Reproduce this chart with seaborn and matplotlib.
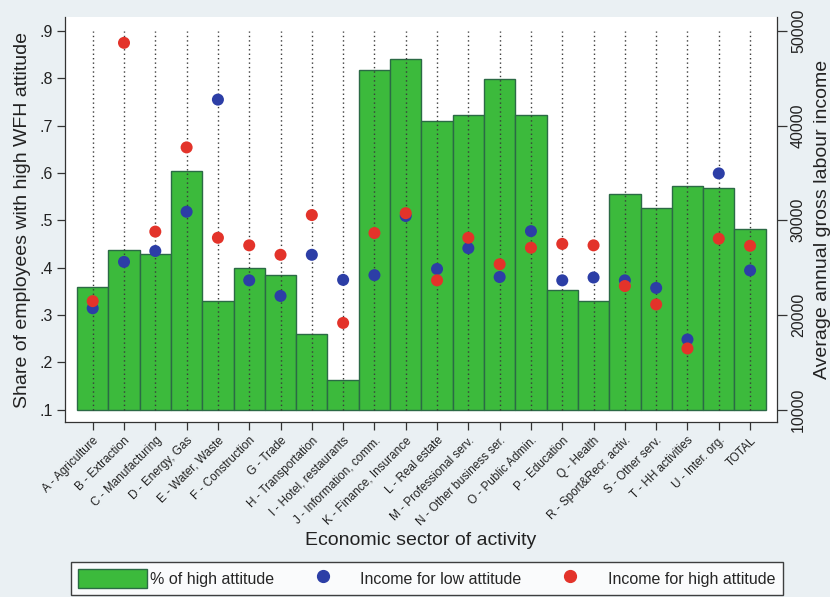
import numpy as np
import pandas as pd
import matplotlib
matplotlib.use("Agg")
import matplotlib.pyplot as plt
from matplotlib.patches import Patch
from matplotlib.lines import Line2D
import seaborn as sns

sectors = ["A - Agriculture", "B - Extraction", "C - Manufacturing", "D - Energy, Gas",
           "E - Water, Waste", "F - Construction", "G - Trade", "H - Transportation",
           "I - Hotel, restaurants", "J - Information, comm.", "K - Finance, Insurance",
           "L - Real estate", "M - Professional serv.", "N - Other business ser.",
           "O - Public Admin.", "P - Education", "Q - Health", "R - Sport&Recr. activ.",
           "S - Other serv.", "T - HH activities", "U - Inter. org.", "TOTAL"]

share_high = [0.359, 0.438, 0.429, 0.605, 0.3285, 0.399, 0.385, 0.260, 0.163, 0.817, 0.8415,
              0.710, 0.722, 0.7985, 0.722, 0.352, 0.3285, 0.555, 0.5265, 0.573, 0.569, 0.481]

income_low = [20700, 25600, 26750, 30900, 42750, 23650, 22000, 26350, 23700, 24200, 30450,
              24850, 27050, 24000, 28850, 23650, 23950, 23650, 22850, 17400, 34950, 24700]

income_high = [21450, 48750, 28800, 37700, 28150, 27350, 26350, 30550, 19150, 28650, 30750,
               23650, 28150, 25350, 27100, 27500, 27350, 23050, 21100, 16450, 28050, 27300]

left_ticks = [0.1, 0.2, 0.3, 0.4, 0.5, 0.6, 0.7, 0.8, 0.9]
left_ticklabels = [".1", ".2", ".3", ".4", ".5", ".6", ".7", ".8", ".9"]
right_ticks = [10000, 20000, 30000, 40000, 50000]

GREEN = "#3cba3c"
EDGE = "#2b6a45"
BLUE = "#2c3ea6"
RED = "#e3332a"
BG = "#eaf0f3"

sns.set_style("white")
plt.rcParams["font.family"] = ["Liberation Sans", "DejaVu Sans"]

fig = plt.figure(figsize=(8.30, 5.97), dpi=100, facecolor=BG)
ax = fig.add_axes([65/830, 1 - 422/597, (777-65)/830, (422-17)/597])
ax.set_facecolor("white")

n = len(sectors)
df = pd.DataFrame({"sector": sectors, "share": share_high, "pos": np.arange(n),
                   "low": income_low, "high": income_high})

sns.barplot(data=df, x="sector", y="share", order=sectors, color=GREEN, width=1.0,
            saturation=1, edgecolor=EDGE, linewidth=1.0, ax=ax, zorder=2)
base = left_ticks[0]
for p in ax.patches:
    h = p.get_height()
    p.set_y(base)
    p.set_height(h - base)
    p.set_facecolor(GREEN)

ax.vlines(np.arange(n), left_ticks[0], left_ticks[-1], colors="#3a3a3a",
          linestyles=(0, (1, 2.2)), linewidth=1.0, zorder=3)

ylo, yhi = 0.0736, 0.9296
ax.set_ylim(ylo, yhi)
ax.set_xlim(-0.885, 21.86)
ax.set_yticks(left_ticks)
ax.set_yticklabels(left_ticklabels, fontsize=11.5, color="#222222")
ax.set_xticks(np.arange(n))
ax.set_xticklabels(sectors, rotation=45, ha="right", rotation_mode="anchor",
                   fontsize=8.5, color="#222222")
ax.tick_params(axis="both", direction="out", length=6, width=0.9, color="#333333",
               left=True, bottom=True, pad=3)
ax.set_ylabel("Share of employees with high WFH attitude", fontsize=14, color="#222222",
              labelpad=6)
ax.set_xlabel("Economic sector of activity", fontsize=14, color="#222222", labelpad=3)
for s in ["left", "bottom"]:
    ax.spines[s].set_color("#333333")
    ax.spines[s].set_linewidth(0.9)
ax.spines["top"].set_visible(False)
ax.spines["right"].set_visible(False)

ax2 = ax.twinx()
sns.scatterplot(x=df["pos"], y=df["low"], color=BLUE, s=75, edgecolor="none", ax=ax2, zorder=4)
sns.scatterplot(x=df["pos"], y=df["high"], color=RED, s=75, edgecolor="none", ax=ax2, zorder=4)
ax2.set_ylim(5000 + 50000 * ylo, 5000 + 50000 * yhi)
ax2.set_xlim(ax.get_xlim())
ax2.set_yticks(right_ticks)
ax2.set_yticklabels([str(t) for t in right_ticks], rotation=90, va="center",
                    fontsize=11.5, color="#222222")
ax2.tick_params(axis="y", direction="out", length=7, width=0.9, color="#333333", right=True, pad=3)
ax2.set_ylabel("Average annual gross labour income", fontsize=14, color="#222222",
               labelpad=6)
ax2.set_xlabel("")
for s in ["top", "left", "bottom"]:
    ax2.spines[s].set_visible(False)
ax2.spines["right"].set_color("#333333")
ax2.spines["right"].set_linewidth(0.9)

handles = [Patch(facecolor=GREEN, edgecolor=EDGE, linewidth=1.0),
           Line2D([], [], linestyle="none", marker="o", markersize=8.5, color=BLUE),
           Line2D([], [], linestyle="none", marker="o", markersize=8.5, color=RED)]
labels = ["% of high attitude", "Income for low attitude", "Income for high attitude"]
leg = fig.legend(handles, labels, loc="upper left", bbox_to_anchor=(71/830, 1 - 562/597),
                 ncol=3, frameon=True, fancybox=False, fontsize=11.5,
                 handlelength=4.3, handleheight=1.4, handletextpad=0.2,
                 columnspacing=0.9, borderpad=0.45, borderaxespad=0)
leg.get_frame().set_edgecolor("#111111")
leg.get_frame().set_linewidth(1.0)
leg.get_frame().set_facecolor("white")

fig.savefig("out.png", dpi=100, facecolor=BG)
